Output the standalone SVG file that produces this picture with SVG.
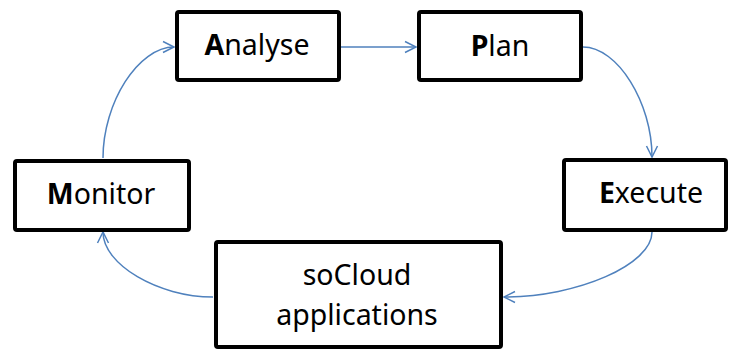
<svg xmlns="http://www.w3.org/2000/svg" width="730" height="351" viewBox="0 0 730 351">
<style>
.box{fill:#fff;stroke:#000;stroke-width:4}
.lbl{font-family:"Noto Sans","Open Sans",sans-serif;font-size:28.5px;fill:#000;text-anchor:middle}
.b{font-weight:bold}
.con{fill:none;stroke:#4F81BD;stroke-width:1.5;marker-end:url(#arr)}
</style>
<defs>
<marker id="arr" markerUnits="userSpaceOnUse" markerWidth="14" markerHeight="14" refX="12" refY="7" orient="auto" viewBox="0 0 14 14">
<path d="M1,1.5 L12,7 L1,12.5" fill="none" stroke="#4F81BD" stroke-width="1.5"/>
</marker>
</defs>
<rect width="730" height="351" fill="#fff"/>
<g id="connectors">
<path class="con" d="M341,47 L416,47"/>
<path class="con" d="M583,47 C617.5,47 652,102.5 652,157"/>
<path class="con" d="M652,232 C652,264.5 578,297 504,297"/>
<path class="con" d="M213,297 C158,297 103,264.5 103,232"/>
<path class="con" d="M103,158 C103,102.5 138.5,47 174,47"/>
</g>
<g id="analyse">
<rect class="box" x="177" y="12" width="162" height="68" rx="2"/>
<text class="lbl" x="257" y="55"><tspan class="b">A</tspan>nalyse</text>
</g>
<g id="plan">
<rect class="box" x="419" y="12" width="162" height="68" rx="2"/>
<text class="lbl" x="500" y="56"><tspan class="b">P</tspan>lan</text>
</g>
<g id="monitor">
<rect class="box" x="15" y="161" width="174" height="69" rx="2"/>
<text class="lbl" x="101" y="204"><tspan class="b">M</tspan>onitor</text>
</g>
<g id="execute">
<rect class="box" x="564" y="160" width="162" height="70" rx="2"/>
<text class="lbl" x="651" y="203"><tspan class="b">E</tspan>xecute</text>
</g>
<g id="socloud">
<rect class="box" x="216" y="242" width="285" height="105" rx="2"/>
<text class="lbl" x="357" y="285">soCloud</text>
<text class="lbl" x="357" y="325">applications</text>
</g>
</svg>
